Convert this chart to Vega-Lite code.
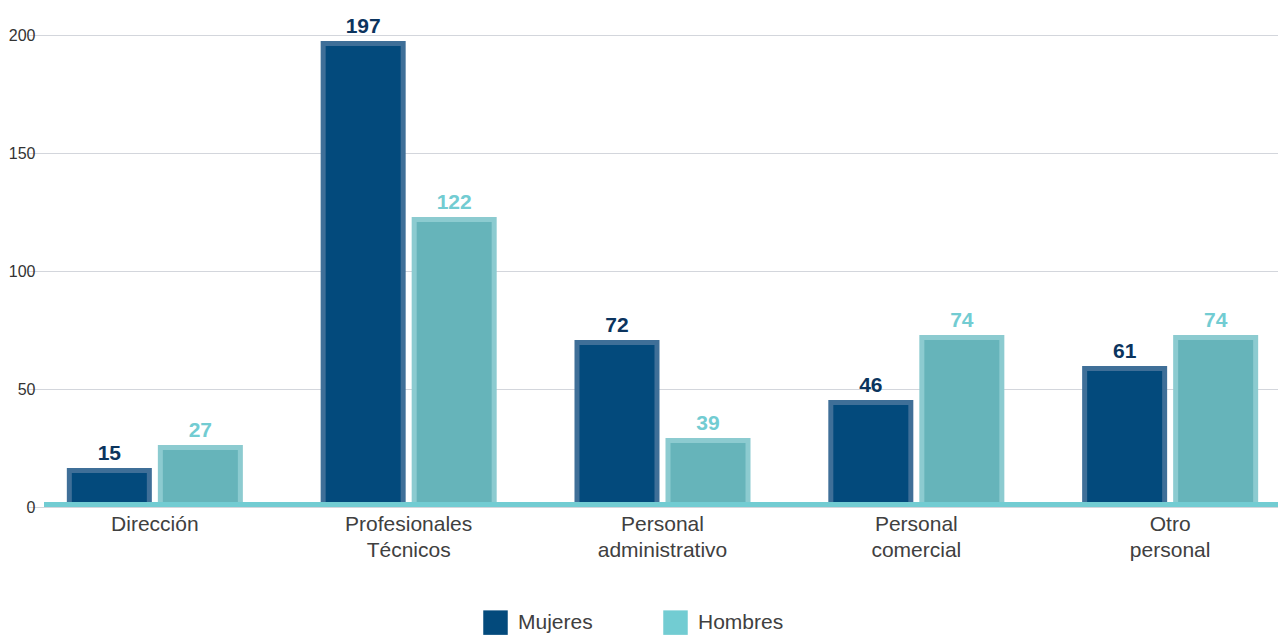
{
  "$schema": "https://vega.github.io/schema/vega-lite/v6.json",
  "autosize": {"type": "none"},
  "padding": {"left": 44, "top": 35, "right": 0, "bottom": 130},
  "width": 1234,
  "height": 472,
  "background": "white",
  "config": {"font": "Liberation Sans", "view": {"stroke": null}},
  "data": {"values": [
    {"categoria": "Dirección", "sexo": "Mujeres", "valor": 15, "altura": 16.5},
    {"categoria": "Dirección", "sexo": "Hombres", "valor": 27, "altura": 26.3},
    {"categoria": "Profesionales Técnicos", "sexo": "Mujeres", "valor": 197, "altura": 197.5},
    {"categoria": "Profesionales Técnicos", "sexo": "Hombres", "valor": 122, "altura": 122.9},
    {"categoria": "Personal administrativo", "sexo": "Mujeres", "valor": 72, "altura": 70.8},
    {"categoria": "Personal administrativo", "sexo": "Hombres", "valor": 39, "altura": 29.2},
    {"categoria": "Personal comercial", "sexo": "Mujeres", "valor": 46, "altura": 45.3},
    {"categoria": "Personal comercial", "sexo": "Hombres", "valor": 74, "altura": 72.9},
    {"categoria": "Otro personal", "sexo": "Mujeres", "valor": 61, "altura": 59.7},
    {"categoria": "Otro personal", "sexo": "Hombres", "valor": 74, "altura": 72.9}
  ]},
  "encoding": {
    "x": {
      "field": "categoria", "type": "nominal", "sort": null,
      "scale": {"range": [-16, 1253], "paddingInner": 0.3065, "paddingOuter": 0.153},
      "axis": {
        "title": null, "domain": false, "ticks": false, "labelAngle": 0,
        "labelFontSize": 21, "labelColor": "#404040", "labelPadding": 6,
        "labelLineHeight": 26, "labelBaseline": "top",
        "labelExpr": "split(datum.label, ' ')"
      }
    },
    "xOffset": {
      "field": "sexo", "type": "nominal", "sort": ["Mujeres", "Hombres"],
      "scale": {"paddingInner": 0.066, "paddingOuter": 0}
    },
    "y": {
      "field": "altura", "type": "quantitative",
      "scale": {"domain": [0, 200], "nice": false},
      "axis": {
        "title": null, "domain": false, "ticks": false, "values": [0, 50, 100, 150, 200],
        "labelFontSize": 16, "labelColor": "#333333", "labelPadding": 9,
        "gridColor": "#d3d6dc", "gridWidth": 1
      }
    }
  },
  "layer": [
    {
      "transform": [{"filter": "false"}],
      "mark": {"type": "square"},
      "encoding": {
        "color": {
          "field": "sexo", "type": "nominal",
          "scale": {"domain": ["Mujeres", "Hombres"], "range": ["#034a7c", "#72ccd2"]},
          "legend": {
            "title": null, "orient": "none", "direction": "horizontal",
            "legendX": 439, "legendY": 575,
            "symbolType": "square", "symbolSize": 600, "symbolStrokeWidth": 0, "symbolOpacity": 1,
            "labelFontSize": 21, "labelColor": "#404040", "labelOffset": 10,
            "columnPadding": 70
          }
        }
      }
    },
    {
      "mark": {"type": "bar"},
      "encoding": {
        "fill": {
          "field": "sexo", "type": "nominal",
          "scale": {"domain": ["Mujeres", "Hombres"], "range": ["#3f6f98", "#8ccbd0"]},
          "legend": null
        }
      }
    },
    {
      "mark": {"type": "bar", "width": 75, "yOffset": 5, "y2Offset": -4},
      "encoding": {
        "y2": {"datum": 0},
        "fill": {
          "field": "sexo", "type": "nominal",
          "scale": {"domain": ["Mujeres", "Hombres"], "range": ["#034a7c", "#66b4ba"]},
          "legend": null
        }
      }
    },
    {
      "mark": {"type": "text", "baseline": "alphabetic", "dy": -8, "fontSize": 21, "fontWeight": "bold"},
      "encoding": {
        "text": {"field": "valor", "type": "quantitative"},
        "fill": {
          "field": "sexo", "type": "nominal",
          "scale": {"domain": ["Mujeres", "Hombres"], "range": ["#0b345e", "#72ccd2"]},
          "legend": null
        }
      }
    },
    {
      "data": {"values": [{"base": 0}]},
      "mark": {"type": "rule", "color": "#72ccd2", "strokeWidth": 5, "yOffset": -2.5},
      "encoding": {"y": {"field": "base", "type": "quantitative"}, "x": null, "xOffset": null}
    }
  ],
  "resolve": {"scale": {"color": "independent", "fill": "independent", "stroke": "independent"}}
}
